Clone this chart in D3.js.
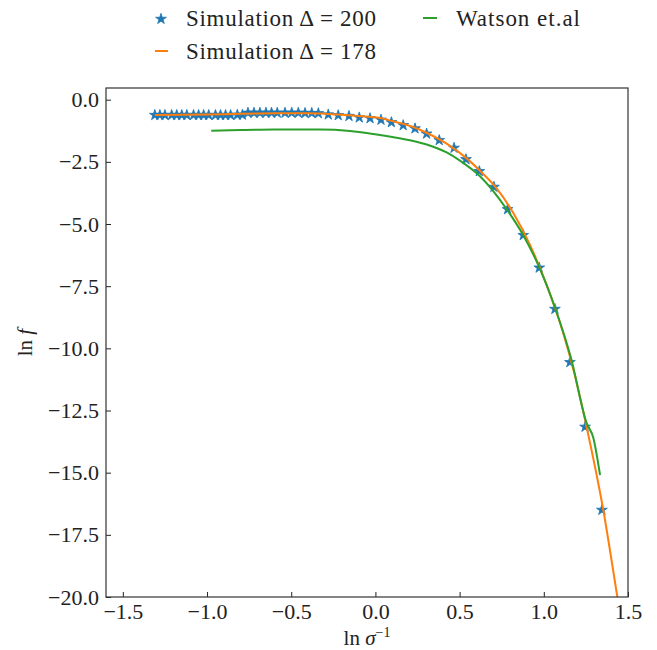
<!DOCTYPE html>
<html><head><meta charset="utf-8">
<script src="https://cdn.jsdelivr.net/npm/d3@7"></script>
<style>body{margin:0;background:#fff}svg{display:block}svg text{font-family:"Liberation Serif","DejaVu Serif",serif !important;fill:#222}</style>
</head><body><svg id="c" width="657" height="650"></svg>
<script>
// Simulation Δ = 200 (stars)
const starX = [-1.31,-1.28,-1.25,-1.21,-1.18,-1.15,-1.12,-1.08,-1.05,-1.02,-0.99,-0.95,-0.92,-0.89,-0.86,-0.82,-0.79,
  -0.757,-0.721,-0.686,-0.650,-0.617,-0.583,-0.537,-0.497,-0.458,-0.418,-0.378,-0.339,
  -0.280,-0.221,-0.157,-0.096,-0.032,0.033,0.095,0.165,0.235,0.304,0.379,0.467,0.538,0.617,0.704,0.785,0.878,0.973,1.066,1.155,1.245,1.345];
const starY = [-0.62,-0.62,-0.62,-0.62,-0.62,-0.62,-0.62,-0.62,-0.62,-0.62,-0.62,-0.62,-0.62,-0.62,-0.62,-0.61,-0.61,
  -0.53,-0.53,-0.53,-0.53,-0.53,-0.53,-0.53,-0.53,-0.53,-0.54,-0.54,-0.55,
  -0.60,-0.63,-0.66,-0.72,-0.75,-0.81,-0.91,-1.03,-1.16,-1.37,-1.63,-1.94,-2.40,-2.88,-3.51,-4.41,-5.45,-6.76,-8.42,-10.56,-13.16,-16.5];
// Simulation Δ = 178 (orange line)
const orangeX = [-1.31,-1.0,-0.8,-0.6,-0.4,-0.3,-0.2,-0.1,0.027,0.1,0.225,0.3,0.423,0.542,0.621,0.72,0.819,0.918,1.017,1.116,1.185,1.254,1.353,1.433,1.46];
const orangeY = [-0.62,-0.60,-0.57,-0.55,-0.55,-0.57,-0.61,-0.66,-0.74,-0.86,-1.10,-1.32,-1.77,-2.36,-2.86,-3.57,-4.56,-5.84,-7.45,-9.40,-11.1,-13.15,-16.49,-19.84,-21.0];
// Watson et.al (green line)
const greenX = [-0.975,-0.8,-0.6,-0.329,-0.15,-0.013,0.1,0.225,0.304,0.423,0.502,0.621,0.779,0.878,0.977,1.076,1.16,1.254,1.294,1.334];
const greenY = [-1.25,-1.22,-1.20,-1.20,-1.26,-1.38,-1.50,-1.66,-1.80,-2.12,-2.45,-3.08,-4.40,-5.45,-6.80,-8.55,-10.35,-13.0,-13.6,-15.1];
const xTicks = [-1.5,-1.0,-0.5,0.0,0.5,1.0,1.5];
const yTicks = [0.0,-2.5,-5.0,-7.5,-10.0,-12.5,-15.0,-17.5,-20.0];

const L=106,R=628,T=88,B=597;
const svg=d3.select("#c");
const x=d3.scaleLinear().domain([-1.6,1.5]).range([L,R]);
const y=d3.scaleLinear().domain([-20,0.47]).range([B,T]);
const fmt=v=>v.toFixed(1).replace("-","\u2212");

svg.append("defs").append("clipPath").attr("id","clip").append("rect")
  .attr("x",L).attr("y",T).attr("width",R-L).attr("height",B-T);
const g=svg.append("g").attr("clip-path","url(#clip)");

const star=d3.symbol().type(d3.symbolStar).size(36);
g.selectAll("path.s").data(starX.map((v,i)=>[v,starY[i]])).join("path")
  .attr("class","s").attr("d",star)
  .attr("transform",d=>`translate(${x(d[0])},${y(d[1])})`)
  .attr("fill","#1f77b4").attr("stroke","#1f77b4").attr("stroke-width",0.8);

const line=d3.line().x(d=>x(d[0])).y(d=>y(d[1])).curve(d3.curveMonotoneX);
g.append("path").attr("d",line(orangeX.map((v,i)=>[v,orangeY[i]])))
  .attr("fill","none").attr("stroke","#ff7f0e").attr("stroke-width",2);
g.append("path").attr("d",line(greenX.map((v,i)=>[v,greenY[i]])))
  .attr("fill","none").attr("stroke","#2ca02c").attr("stroke-width",2);

// axes
const xa=svg.append("g").attr("transform",`translate(0,${B})`)
  .call(d3.axisBottom(x).tickValues(xTicks).tickFormat(fmt).tickSizeInner(-5).tickSizeOuter(0).tickPadding(6));
const ya=svg.append("g").attr("transform",`translate(${L},0)`)
  .call(d3.axisLeft(y).tickValues(yTicks).tickFormat(fmt).tickSizeInner(-5).tickSizeOuter(0).tickPadding(7));
[xa,ya].forEach(a=>{a.select(".domain").remove();a.attr("font-family",null);
  a.selectAll(".tick line").attr("stroke","#222").attr("stroke-width",1);
  a.selectAll(".tick text").style("font-size","22px").attr("fill","#333");});
xa.selectAll(".tick text").attr("dy","0.71em");
svg.append("rect").attr("x",L).attr("y",T).attr("width",R-L).attr("height",B-T)
  .attr("fill","none").attr("stroke","#333").attr("stroke-width",1.2);

// axis labels
const xl=svg.append("text").attr("x",(L+R)/2).attr("y",645).attr("text-anchor","middle").style("font-size","21px");
xl.append("tspan").text("ln ");
xl.append("tspan").attr("font-style","italic").text("σ");
xl.append("tspan").attr("dy",-8).style("font-size","14px").text("\u22121");
const yl=svg.append("text").attr("transform",`translate(32,${(T+B)/2}) rotate(-90)`).attr("text-anchor","middle").style("font-size","21px");
yl.append("tspan").text("ln ");
yl.append("tspan").attr("font-style","italic").text("f");

// legend
const lg=svg.append("g");
lg.append("path").attr("d",star).attr("transform","translate(161,19)").attr("fill","#1f77b4").attr("stroke","#1f77b4").attr("stroke-width",0.8);
lg.append("line").attr("x1",155).attr("x2",168).attr("y1",51).attr("y2",51).attr("stroke","#ff7f0e").attr("stroke-width",2);
lg.append("line").attr("x1",423).attr("x2",437).attr("y1",18).attr("y2",18).attr("stroke","#2ca02c").attr("stroke-width",2);
function leg(xp,yp,txt,len){lg.append("text").attr("x",xp).attr("y",yp).style("font-size","23px")
  .attr("textLength",len).attr("lengthAdjust","spacing").text(txt);}
leg(186,26,"Simulation\u2009Δ = 200",190);
leg(186,59,"Simulation\u2009Δ = 178",190);
leg(456,26,"Watson et.al",124);
</script></body></html>
